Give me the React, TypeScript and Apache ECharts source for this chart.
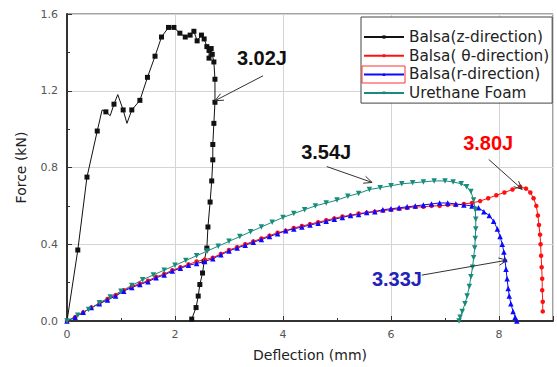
import React, { useEffect, useRef } from "react";
import * as echarts from "echarts";

// ---- Data ----
const seriesNames = ["Balsa(z-direction)", "Balsa( θ-direction)", "Balsa(r-direction)", "Urethane Foam"];
const seriesColors = ["#111111", "#ff1010", "#0a0aff", "#178c7c"];

// Balsa z-direction (x: deflection mm, y: force kN); zMark: whether a marker is drawn
const zX = [0, 0.2, 0.37, 0.56, 0.65, 0.72, 0.8, 0.87, 0.94, 1.04, 1.11, 1.2, 1.35, 1.49, 1.63, 1.75, 1.88, 1.98, 2.09, 2.19, 2.28, 2.35, 2.41, 2.49, 2.54, 2.59, 2.63, 2.63, 2.67, 2.69, 2.72, 2.74, 2.74, 2.72, 2.7, 2.7, 2.68, 2.65, 2.61, 2.59, 2.54, 2.51, 2.46, 2.43, 2.39, 2.31];
const zY = [0, 0.37, 0.75, 0.99, 1.1, 1.09, 1.07, 1.13, 1.18, 1.1, 1.03, 1.1, 1.15, 1.27, 1.38, 1.48, 1.53, 1.53, 1.5, 1.48, 1.49, 1.51, 1.46, 1.49, 1.47, 1.43, 1.41, 1.37, 1.42, 1.39, 1.35, 1.26, 1.14, 1.03, 0.92, 0.84, 0.73, 0.62, 0.49, 0.38, 0.31, 0.25, 0.19, 0.13, 0.07, 0.01];
const zMark = [0, 1, 1, 1, 0, 1, 0, 1, 0, 1, 0, 1, 1, 1, 1, 1, 1, 1, 1, 1, 1, 1, 1, 1, 1, 1, 1, 1, 1, 1, 1, 1, 1, 1, 1, 1, 1, 1, 1, 1, 1, 1, 1, 1, 1, 1];

// Balsa theta-direction
const tX = [0, 0.15, 0.3, 0.45, 0.6, 0.75, 0.9, 1.05, 1.2, 1.35, 1.5, 1.65, 1.8, 1.95, 2.1, 2.25, 2.4, 2.55, 2.7, 2.85, 3.0, 3.15, 3.3, 3.45, 3.6, 3.75, 3.9, 4.05, 4.2, 4.35, 4.5, 4.65, 4.8, 4.95, 5.1, 5.25, 5.4, 5.55, 5.7, 5.85, 6.0, 6.15, 6.3, 6.45, 6.6, 6.75, 6.9, 7.05, 7.2, 7.35, 7.5, 7.65, 7.8, 7.95, 8.1, 8.25, 8.39, 8.5, 8.58, 8.64, 8.69, 8.72, 8.74, 8.76, 8.77, 8.78, 8.79, 8.8, 8.8, 8.81, 8.81];
const tY = [0, 0.02, 0.045, 0.07, 0.09, 0.115, 0.135, 0.16, 0.18, 0.195, 0.21, 0.23, 0.245, 0.265, 0.28, 0.295, 0.31, 0.32, 0.33, 0.35, 0.37, 0.385, 0.4, 0.415, 0.43, 0.445, 0.46, 0.47, 0.485, 0.495, 0.505, 0.515, 0.525, 0.535, 0.545, 0.55, 0.56, 0.565, 0.57, 0.575, 0.58, 0.585, 0.59, 0.595, 0.595, 0.6, 0.6, 0.605, 0.605, 0.61, 0.615, 0.625, 0.64, 0.655, 0.67, 0.685, 0.7, 0.69, 0.67, 0.64, 0.6, 0.55, 0.5, 0.45, 0.4, 0.34, 0.28, 0.22, 0.16, 0.1, 0.05];

// Balsa r-direction
const rX = [0, 0.15, 0.3, 0.45, 0.6, 0.75, 0.9, 1.05, 1.2, 1.35, 1.5, 1.65, 1.8, 1.95, 2.1, 2.25, 2.4, 2.55, 2.7, 2.85, 3.0, 3.15, 3.3, 3.45, 3.6, 3.75, 3.9, 4.05, 4.2, 4.35, 4.5, 4.65, 4.8, 4.95, 5.1, 5.25, 5.4, 5.55, 5.7, 5.85, 6.0, 6.15, 6.3, 6.45, 6.6, 6.75, 6.9, 7.05, 7.2, 7.35, 7.5, 7.62, 7.72, 7.82, 7.9, 7.97, 8.02, 8.06, 8.09, 8.11, 8.13, 8.15, 8.17, 8.19, 8.22, 8.26, 8.3, 8.33];
const rY = [0, 0.02, 0.045, 0.07, 0.09, 0.11, 0.13, 0.155, 0.175, 0.19, 0.205, 0.225, 0.24, 0.26, 0.275, 0.29, 0.3, 0.31, 0.325, 0.345, 0.365, 0.38, 0.395, 0.41, 0.425, 0.44, 0.455, 0.47, 0.48, 0.49, 0.5, 0.51, 0.52, 0.53, 0.54, 0.55, 0.555, 0.565, 0.57, 0.58, 0.585, 0.59, 0.595, 0.6, 0.605, 0.61, 0.615, 0.615, 0.61, 0.605, 0.6, 0.59, 0.57, 0.55, 0.52, 0.48, 0.44, 0.4, 0.36, 0.32, 0.27, 0.22, 0.17, 0.13, 0.09, 0.05, 0.02, 0.0];

// Urethane foam
const uX = [0, 0.2, 0.4, 0.6, 0.8, 1.0, 1.2, 1.4, 1.6, 1.8, 2.0, 2.2, 2.4, 2.6, 2.8, 3.0, 3.2, 3.4, 3.6, 3.8, 4.0, 4.2, 4.4, 4.6, 4.8, 5.0, 5.2, 5.4, 5.6, 5.8, 6.0, 6.2, 6.4, 6.6, 6.8, 7.0, 7.15, 7.3, 7.4, 7.48, 7.53, 7.56, 7.57, 7.57, 7.56, 7.55, 7.53, 7.51, 7.48, 7.45, 7.41, 7.37, 7.32, 7.28, 7.26];
const uY = [0, 0.03, 0.06, 0.095, 0.125, 0.155, 0.185, 0.215, 0.24, 0.265, 0.29, 0.315, 0.34, 0.365, 0.39, 0.415, 0.44, 0.465, 0.49, 0.515, 0.54, 0.56, 0.58, 0.6, 0.615, 0.63, 0.65, 0.665, 0.685, 0.695, 0.705, 0.715, 0.72, 0.725, 0.73, 0.73, 0.725, 0.715, 0.7, 0.675, 0.63, 0.58, 0.53, 0.48, 0.43, 0.38, 0.33, 0.28, 0.23, 0.18, 0.13, 0.09, 0.05, 0.02, 0.0];

const xTicks = [0, 2, 4, 6, 8];
const yTicks = ["0.0", "0.4", "0.8", "1.2", "1.6"];

// Annotations: label, colour, text centre, arrow tail, arrow tip (data coords)
const annLabels = ["3.02J", "3.54J", "3.80J", "3.33J"];
const annColors = ["#111111", "#111111", "#ff0000", "#2222b8"];
const annText = [[3.61, 1.371], [4.8, 0.883], [7.8, 0.93], [6.11, 0.218]];
const annTail = [[3.63, 1.278], [4.81, 0.805], [7.81, 0.842], [6.57, 0.239]];
const annTip = [[2.74, 1.148], [5.65, 0.722], [8.43, 0.686], [8.15, 0.317]];

const zip = (xs: number[], ys: number[]) => xs.map((x, i) => [x, ys[i]]);

export default function App() {
  const ref = useRef<HTMLDivElement>(null);
  useEffect(() => {
    if (!ref.current) return;
    const chart = echarts.init(ref.current, null, { renderer: "svg" });
    const font = "'DejaVu Sans', sans-serif";
    const common = {
      type: "line",
      showSymbol: true,
      lineStyle: { width: 1 },
      emphasis: { disabled: true },
    } as any;
    chart.setOption({
      animation: false,
      backgroundColor: "#ffffff",
      grid: {
        left: 67, right: 4, top: 14, bottom: 45,
        show: true, borderColor: "#444", borderWidth: 1, backgroundColor: "transparent",
      },
      xAxis: {
        type: "value", min: 0, max: 9, interval: 2,
        name: "Deflection (mm)", nameLocation: "middle", nameGap: 27,
        nameTextStyle: { fontFamily: font, fontSize: 14, color: "#222" },
        axisLine: { show: true, lineStyle: { color: "#333", width: 2 } },
        axisTick: { show: true, inside: true, length: 5, lineStyle: { color: "#333" } },
        minorTick: { show: true, splitNumber: 2, length: 3, lineStyle: { color: "#333" } },
        splitLine: { show: true, lineStyle: { color: "#d4d4d4", width: 1 } },
        axisLabel: {
          fontFamily: font, fontSize: 11, color: "#555", margin: 8,
          formatter: (v: number) => (xTicks.includes(v) ? String(v) : ""),
        },
      },
      yAxis: {
        type: "value", min: 0, max: 1.6, interval: 0.4,
        name: "Force (kN)", nameLocation: "middle", nameGap: 39,
        nameTextStyle: { fontFamily: font, fontSize: 14, color: "#222" },
        axisLine: { show: true, lineStyle: { color: "#333", width: 2 } },
        axisTick: { show: true, inside: true, length: 5, lineStyle: { color: "#333" } },
        minorTick: { show: true, splitNumber: 2, length: 3, lineStyle: { color: "#333" } },
        splitLine: { show: true, lineStyle: { color: "#d4d4d4", width: 1 } },
        axisLabel: {
          fontFamily: font, fontSize: 11, color: "#555", margin: 9,
          formatter: (v: number) => yTicks[Math.round(v / 0.4)] ?? "",
        },
      },
      legend: {
        show: true, orient: "vertical", left: 361, top: 17,
        data: seriesNames,
        padding: [12, 3, 2, 2],
        itemWidth: 40, itemHeight: 4, itemGap: 2.7,
        itemStyle: { borderWidth: 0 },
        borderColor: "#444", borderWidth: 1, backgroundColor: "#fff",
        textStyle: { fontFamily: font, fontSize: 15.3, color: "#222", lineHeight: 16 },
        selectedMode: false,
      },
      series: [
        {
          ...common, name: seriesNames[0], color: seriesColors[0],
          symbol: "rect", symbolSize: 5,
          data: zip(zX, zY).map((p, i) => ({ value: p, symbol: zMark[i] ? "rect" : "none" })),
        },
        {
          ...common, name: seriesNames[1], color: seriesColors[1],
          symbol: "circle", symbolSize: 4.5, data: zip(tX, tY),
        },
        {
          ...common, name: seriesNames[2], color: seriesColors[2],
          symbol: "triangle", symbolSize: 5.5, data: zip(rX, rY),
        },
        {
          ...common, name: seriesNames[3], color: seriesColors[3],
          symbol: "triangle", symbolRotate: 180, symbolSize: 5.5, data: zip(uX, uY),
        },
      ],
    });

    const toPx = (p: number[]) => chart.convertToPixel({ gridIndex: 0 }, p) as number[];
    const graphics: any[] = [];
    annLabels.forEach((label, i) => {
      const c = toPx(annText[i]);
      const a = toPx(annTail[i]);
      const b = toPx(annTip[i]);
      graphics.push({
        type: "text", x: c[0], y: c[1], z: 100,
        style: {
          text: label, fill: annColors[i], font: "bold 20px 'Liberation Sans', Arial, sans-serif",
          textAlign: "center", textVerticalAlign: "middle",
        },
      });
      graphics.push({
        type: "line", z: 100,
        shape: { x1: a[0], y1: a[1], x2: b[0], y2: b[1] },
        style: { stroke: "#333", lineWidth: 1 },
      });
      const ang = Math.atan2(b[1] - a[1], b[0] - a[0]);
      const L = 9, w = 0.42;
      graphics.push({
        type: "polyline", z: 100,
        shape: {
          points: [
            [b[0] - L * Math.cos(ang - w), b[1] - L * Math.sin(ang - w)],
            [b[0], b[1]],
            [b[0] - L * Math.cos(ang + w), b[1] - L * Math.sin(ang + w)],
          ],
        },
        style: { stroke: "#333", lineWidth: 1, fill: "none" },
      });
    });
    // red selection box drawn around the third legend icon in the reference
    graphics.push({
      type: "rect", z: 100,
      shape: { x: 362, y: 66, width: 43, height: 17 },
      style: { stroke: "#ff3030", lineWidth: 1, fill: "none" },
    });
    chart.setOption({ graphic: graphics });

    return () => chart.dispose();
  }, []);
  return <div ref={ref} style={{ width: 557, height: 367, position: "absolute", left: 0, top: 0 }} />;
}
